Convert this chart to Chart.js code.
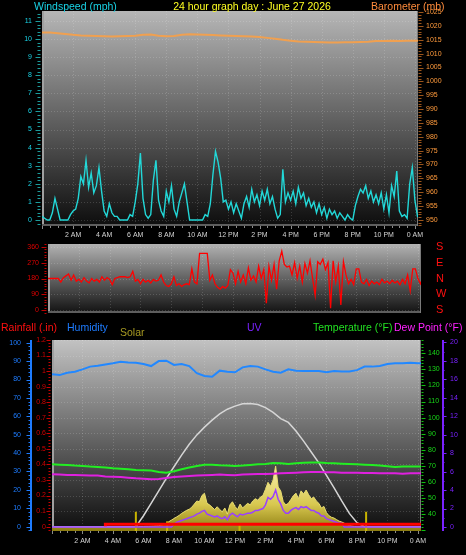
<!DOCTYPE html>
<html>
<head>
<meta charset="utf-8">
<script src="https://cdn.jsdelivr.net/npm/chart.js@4.4.1/dist/chart.umd.min.js"></script>
<style>
html, body { margin: 0; padding: 0; background: #000; }
#wrap { position: relative; width: 466px; height: 555px; overflow: hidden; }
canvas { position: absolute; left: 0; }
</style>
</head>
<body>
<div id="wrap">
  <canvas id="wind-chart" width="466" height="240" style="top:0px"></canvas>
  <canvas id="dir-chart" width="466" height="78" style="top:240px"></canvas>
  <canvas id="climate-chart" width="466" height="237" style="top:318px"></canvas>
</div>
<script>
// time axis (hours since midnight)
const xMax = 24.2;
const timeTicks = [2, 4, 6, 8, 10, 12, 14, 16, 18, 20, 22, 24];
const timeLabels = ['2 AM', '4 AM', '6 AM', '8 AM', '10 AM', '12 PM', '2 PM', '4 PM', '6 PM', '8 PM', '10 PM', '0 AM'];
const fastStep = 1 / 6;   // 10 minute samples
const slowStep = 0.5;     // 30 minute samples
const dayStart = 5.5;     // first daylight sample

// axis tick values
const windTicks = [0, 1, 2, 3, 4, 5, 6, 7, 8, 9, 10, 11];
const baroTicks = [950, 955, 960, 965, 970, 975, 980, 985, 990, 995, 1000, 1005, 1010, 1015, 1020, 1025];
const dirTicks = [0, 90, 180, 270, 360];
const dirLetters = ['S', 'W', 'N', 'E', 'S'];
const humTicks = [0, 10, 20, 30, 40, 50, 60, 70, 80, 90, 100];
const rainTicks = [0, 0.1, 0.2, 0.3, 0.4, 0.5, 0.6, 0.7, 0.8, 0.9, 1, 1.1, 1.2];
const tempTicks = [40, 50, 60, 70, 80, 90, 100, 110, 120, 130, 140];
const uvTicks = [0, 2, 4, 6, 8, 10, 12, 14, 16, 18, 20];

// windspeed (mph), every 10 min from midnight
const windSpeed = [
  0.2, 0.1, 0, 0, 0.4, 1.2, 0.6, 0, 0, 0,
  0, 0.3, 0.5, 0.6, 1.2, 2.4, 2.0, 3.3, 1.8, 2.6,
  1.5, 1.9, 2.9, 1.6, 0.5, 0.2, 0.9, 0.4, 0.2, 0.2,
  0, 0, 0, 0, 0.3, 0.2, 1.0, 2.0, 3.7, 1.2,
  0.3, 0.1, 0.3, 2.2, 3.3, 1.1, 0.5, 0.2, 1.6, 1.0,
  1.9, 0.6, 0.2, 1.0, 1.5, 2.0, 1.0, 0, 0, 0,
  0, 0, 0, 0.3, 0.2, 0.9, 2.5, 3.8, 3.2, 2.3,
  1.0, 1.1, 0.6, 1.0, 0.4, 0.9, 0.5, 0.1, 0.9, 1.3,
  0.7, 1.7, 1.0, 1.4, 0.8, 1.6, 1.1, 1.7, 0.9, 1.3,
  0.6, 0.1, 0.3, 2.8, 1.0, 1.5, 1.1, 1.6, 0.9, 1.8,
  1.2, 1.5, 0.8, 1.2, 0.7, 1.0, 0.4, 0.9, 0.3, 0.7,
  0.1, 0.6, 0.3, 0.5, 0.1, 0.4, 0.2, 0, 0.3, 0.1,
  0, 0.8, 1.3, 1.7, 1.5, 1.9, 1.2, 1.6, 1.0, 1.4,
  0.9, 1.5, 0.6, 1.4, 0.4, 1.9, 1.3, 2.7, 0.5, 0.2,
  0.3, 0.1, 2.0, 2.9, 1.1, 0.2, 0.3
];

// barometer (mb), every 30 min
const barometer = [
  1017.6, 1017.6, 1017.4, 1017.1, 1016.8, 1016.6, 1016.5, 1016.4, 1016.3, 1016.2,
  1016.3, 1016.4, 1016.5, 1016.8, 1016.9, 1016.5, 1016.3, 1016.4, 1016.8, 1017.0,
  1016.9, 1016.8, 1016.7, 1016.6, 1016.5, 1016.4, 1016.3, 1016.2, 1016.0, 1015.7,
  1015.4, 1015.0, 1014.7, 1014.4, 1014.3, 1014.2, 1014.1, 1014.0, 1014.0, 1014.1,
  1014.1, 1014.2, 1014.3, 1014.6, 1014.6, 1014.7, 1014.6, 1014.7, 1014.7, 1014.7
];

// wind direction (degrees), every 10 min
const windDir = [
  180, 180, 180, 180, 180, 160, 185, 195, 205, 170,
  200, 165, 175, 160, 185, 165, 155, 180, 165, 175,
  160, 190, 170, 185, 175, 145, 180, 185, 190, 190,
  190, 185, 190, 220, 165, 175, 150, 175, 160, 170,
  155, 175, 165, 170, 200, 160, 140, 135, 150, 190,
  140, 150, 135, 145, 150, 145, 235, 160, 150, 322,
  322, 322, 322, 170, 200, 150, 130, 120, 135, 125,
  140, 230, 210, 150, 220, 160, 200, 150, 240, 170,
  195, 160, 250, 180, 230, 40, 250, 170, 260, 120,
  280, 335, 260, 245, 250, 200, 270, 180, 250, 160,
  265, 210, 280, 180, 85, 275, 260, 290, 230, 270,
  12, 280, 160, 250, 30, 275, 200, 150, 175, 145,
  235, 235, 160, 150, 175, 140, 165, 150, 160, 145,
  175, 155, 165, 150, 170, 155, 165, 145, 175, 150,
  200, 110, 235, 235, 180, 150, 190
];

// humidity (%), temperature and dew point (°F), every 30 min
const humidity = [
  82.8, 82.4, 83.7, 84.2, 85.5, 87, 87.5, 88.2, 88.8, 89.7,
  89.3, 89.1, 88.4, 87.3, 90, 90.2, 87.9, 88.4, 87.3, 83.4,
  81.9, 81.5, 84.8, 84.2, 83.9, 86.6, 87.3, 87, 85.5, 84.2,
  83.7, 85.5, 84.8, 84.6, 84.6, 84.6, 84, 84.6, 84.4, 84.4,
  85.1, 87, 87, 87.3, 88.4, 88.8, 88.8, 89.1, 88.8, 88.8
];
const temperature = [
  70.9, 70.7, 70.5, 70.1, 69.9, 69.5, 69.3, 68.9, 68.4, 68.2,
  67.8, 67.4, 67.2, 67.0, 66.2, 65.7, 66.6, 67.8, 68.9, 69.9,
  70.7, 70.7, 70.3, 70.1, 69.9, 70.1, 70.5, 70.9, 71.1, 71.7,
  71.5, 71.1, 71.5, 71.9, 72.1, 72.1, 71.7, 71.5, 71.3, 71.1,
  70.9, 70.7, 70.5, 70.1, 69.7, 69.3, 69.5, 69.5, 69.5, 69.5
];
const dewPoint = [
  64.7, 64.5, 64.3, 64.3, 64.1, 63.9, 63.9, 63.4, 63.2, 63.0,
  62.6, 62.2, 62.0, 61.6, 61.8, 62.4, 63.0, 63.4, 63.6, 63.9,
  64.1, 64.3, 64.5, 64.3, 64.1, 64.5, 64.7, 64.9, 64.9, 65.1,
  65.3, 65.5, 65.7, 66.0, 66.2, 66.2, 66.0, 66.0, 65.7, 65.7,
  65.7, 65.5, 65.5, 65.3, 65.3, 65.3, 65.1, 65.3, 65.3, 65.3
];

// solar radiation (W/m²) and UV index, every 10 min from 5:30 to 20:00
const solar = [
  0, 0, 1,
  1, 2, 2, 3, 4, 5,
  6, 10, 14, 22, 32, 42,
  52, 62, 72, 85, 95, 105,
  112, 125, 145, 165, 160, 200,
  215, 150, 140, 125, 110, 128,
  110, 95, 120, 80, 140, 160,
  130, 110, 145, 120, 135, 150,
  140, 165, 180, 170, 190, 200,
  240, 285, 260, 300, 390, 255,
  230, 160, 140, 150, 175, 200,
  215, 180, 230, 210, 235, 205,
  180, 190, 165, 150, 120, 130,
  90, 70, 60, 55, 45, 35,
  30, 22, 15, 8, 4, 1,
  0
];
const uvIndex = [
  0, 0, 0,
  0, 0, 0, 0, 0, 0,
  0, 0, 0, 0, 0, 0,
  0.3, 0.5, 0.6, 0.7, 0.8, 0.9,
  1.0, 1.1, 1.2, 1.4, 1.5, 1.7,
  1.8, 1.4, 1.3, 1.2, 1.1, 1.2,
  1.0, 0.9, 1.1, 0.8, 1.3, 1.5,
  1.3, 1.1, 1.4, 1.3, 1.4, 1.5,
  1.5, 1.6, 1.8, 1.8, 1.9, 2.0,
  2.4, 3.2, 3.0, 3.3, 4.0, 3.0,
  2.5, 1.8, 1.5, 1.5, 1.8, 2.0,
  2.1, 1.9, 2.2, 2.1, 2.2, 2.0,
  1.8, 1.8, 1.6, 1.5, 1.2, 1.2,
  0.9, 0.8, 0.7, 0.6, 0.5, 0.4,
  0.4, 0, 0, 0, 0, 0,
  0
];
// theoretical max solar (W/m²), every 30 min from 5:30 to 20:30
const solarMax = [
  0, 70, 150, 230, 310, 385, 460, 530, 590, 640,
  685, 725, 755, 775, 790, 792, 785, 765, 735, 695,
  670, 615, 550, 480, 410, 330, 250, 165, 85, 25,
  0
];

// daily rainfall (in) steps and sun markers
const rainTimes = [3.5, 6.9, 24.5];
const rainTotal = [0.003, 0.015, 0.015];
const sunTimes = [5.5, 7.55, 12.3, 20.6];
const sunMarks = [0.095, 0.035, 0.012, 0.095];

Chart.defaults.font.family = '"Liberation Sans", Arial, sans-serif';
Chart.defaults.font.size = 7;

// helpers
const series = (values, start, step) => values.map((v, i) => ({ x: start + i * step, y: v }));
const withNight = (values, start, step) =>
  [{ x: 0, y: 0 }].concat(series(values, start, step), [{ x: xMax + 0.5, y: 0 }]);

function xAxis(height, pad, show) {
  return {
    type: 'linear', min: 0, max: xMax,
    grid: { display: false, drawTicks: false },
    border: { display: false },
    afterBuildTicks: s => { s.ticks = timeTicks.map(v => ({ value: v })); },
    afterFit: s => { s.height = height; s.paddingLeft = 0; s.paddingRight = 0; },
    ticks: {
      display: show, color: '#d4d4d4', padding: pad, maxRotation: 0, autoSkip: false,
      callback: v => timeLabels[timeTicks.indexOf(v)]
    }
  };
}

function yAxis(position, min, max, values, color, width, pad, extra) {
  return Object.assign({
    type: 'linear', position, min, max,
    grid: { display: false, drawTicks: false },
    border: { display: false },
    afterBuildTicks: s => { s.ticks = values.map(v => ({ value: v })); },
    afterFit: s => { s.width = width; s.paddingTop = 0; s.paddingBottom = 0; },
    ticks: { color, padding: pad, autoSkip: false, callback: v => String(v) }
  }, extra || {});
}

// background, grid, tick marks and captions
const decor = {
  id: 'decor',
  beforeDatasetsDraw(chart, args, opts) {
    if (!opts.bg) return;
    const { ctx, chartArea: a, scales } = chart;
    ctx.save();
    const g = ctx.createLinearGradient(0, a.top, 0, a.bottom);
    g.addColorStop(0, opts.bg[0]);
    g.addColorStop(1, opts.bg[1]);
    ctx.fillStyle = g;
    ctx.fillRect(a.left, a.top, a.right - a.left, a.bottom - a.top);

    ctx.strokeStyle = 'rgba(255,255,255,0.16)';
    ctx.lineWidth = 1;
    ctx.setLineDash([1, 2]);
    ctx.beginPath();
    timeTicks.forEach(h => {
      const px = Math.round(scales.x.getPixelForValue(h)) + 0.5;
      ctx.moveTo(px, a.top); ctx.lineTo(px, a.bottom);
    });
    opts.gridValues.forEach(v => {
      const py = Math.round(scales[opts.gridAxis].getPixelForValue(v)) + 0.5;
      ctx.moveTo(a.left, py); ctx.lineTo(a.right, py);
    });
    ctx.stroke();
    ctx.setLineDash([]);

    // frame
    ctx.fillStyle = '#a0a0a0';
    ctx.fillRect(a.left, a.top, 2, a.bottom - a.top);
    ctx.fillStyle = '#5e5e5e';
    ctx.fillRect(a.left, a.bottom - 2, a.right - a.left, 2);
    ctx.fillStyle = '#7a7a7a';
    ctx.fillRect(a.right - 1, a.top, 1, a.bottom - a.top);
    ctx.restore();
  },
  afterDraw(chart, args, opts) {
    const { ctx, chartArea: a, scales } = chart;
    ctx.save();
    (opts.marks || []).forEach(m => {
      const s = scales[m.axis];
      const horiz = m.side === 'bottom';
      const dir = m.side === 'left' ? -1 : 1;
      const base = horiz ? a.bottom + m.offset
        : (m.side === 'left' ? a.left - m.offset : a.right + m.offset);
      ctx.strokeStyle = m.color;
      ctx.fillStyle = m.color;
      if (m.line) {
        ctx.fillRect(base - (dir < 0 ? m.line - 1 : 0), a.top, m.line, a.bottom - a.top);
      }
      ctx.lineWidth = 1;
      ctx.beginPath();
      const n0 = Math.ceil(s.min / m.minor - 1e-6);
      const n1 = Math.floor(s.max / m.minor + 1e-6);
      for (let n = n0; n <= n1; n++) {
        const v = n * m.minor;
        const q = v / m.major;
        const len = Math.abs(q - Math.round(q)) < 1e-6 ? m.majorLen : m.minorLen;
        const p = Math.round(s.getPixelForValue(v)) + 0.5;
        if (horiz) {
          ctx.moveTo(p, base); ctx.lineTo(p, base + len);
        } else {
          const x0 = base + 0.5 * dir;
          ctx.moveTo(x0, p); ctx.lineTo(x0 + dir * len, p);
        }
      }
      ctx.stroke();
    });
    (opts.texts || []).forEach(t => {
      ctx.font = '10.5px "Liberation Sans", Arial, sans-serif';
      ctx.fillStyle = t.color;
      ctx.textAlign = t.align || 'left';
      ctx.textBaseline = 'alphabetic';
      ctx.fillText(t.text, t.x, t.y);
    });
    ctx.restore();
  }
};
Chart.register(decor);

const baseOptions = {
  responsive: false,
  animation: false,
  events: [],
  elements: { point: { radius: 0 }, line: { tension: 0 } }
};

// windspeed and barometer
function createWindChart() {
  const ctx = document.getElementById('wind-chart');
  new Chart(ctx, {
    type: 'line',
    data: {
      datasets: [{
        label: 'Barometer (mb)',
        yAxisID: 'yBaro',
        data: series(barometer, 0, slowStep),
        borderColor: '#f0a050',
        borderWidth: 2,
        order: 2
      }, {
        label: 'Windspeed (mph)',
        yAxisID: 'yWind',
        data: series(windSpeed, 0, fastStep),
        borderColor: '#22d8d8',
        borderWidth: 1.4,
        order: 1
      }]
    },
    options: {
      ...baseOptions,
      layout: { padding: { top: 11, left: 0, right: 0, bottom: 0 }, autoPadding: false },
      plugins: {
        legend: { display: false },
        tooltip: { enabled: false },
        decor: {
          bg: ['#b6b6b6', '#0d0d0d'],
          gridAxis: 'yWind',
          gridValues: windTicks,
          marks: [
            { axis: 'yWind', side: 'left', offset: 1, color: '#1c9c9c', major: 1, minor: 0.2, majorLen: 5, minorLen: 3 },
            { axis: 'yBaro', side: 'right', offset: 0, color: '#9c561c', major: 5, minor: 1, majorLen: 5, minorLen: 3 },
            { axis: 'x', side: 'bottom', offset: 0, color: '#8a8a8a', major: 2, minor: 0.5, majorLen: 3, minorLen: 2 }
          ],
          texts: [
            { text: 'Windspeed (mph)', x: 34, y: 9.5, color: '#19d3e6' },
            { text: '24 hour graph day : June 27 2026', x: 252, y: 9.5, color: '#ffff22', align: 'center' },
            { text: 'Barometer (mb)', x: 371, y: 9.5, color: '#ff8c3c' }
          ]
        }
      },
      scales: {
        x: xAxis(14, 5, true),
        yWind: yAxis('left', -0.33, 11.55, windTicks, '#19d3e6', 42, 10),
        yBaro: yAxis('right', 947.8, 1025.4, baroTicks, '#ff9a3c', 48, 8)
      }
    }
  });
}

// wind direction
function createDirectionChart() {
  const ctx = document.getElementById('dir-chart');
  new Chart(ctx, {
    type: 'line',
    data: {
      datasets: [{
        label: 'Wind direction',
        yAxisID: 'yDir',
        data: series(windDir, 0, fastStep),
        borderColor: '#ff0000',
        borderWidth: 1.3
      }]
    },
    options: {
      ...baseOptions,
      layout: { padding: { top: 4, left: 0, right: 0, bottom: 0 }, autoPadding: false },
      plugins: {
        legend: { display: false },
        tooltip: { enabled: false },
        decor: {
          bg: ['#b2b2b2', '#121212'],
          gridAxis: 'yDir',
          gridValues: dirTicks,
          marks: [
            { axis: 'yDir', side: 'left', offset: 1, color: '#c00000', major: 90, minor: 15, majorLen: 5, minorLen: 2 }
          ]
        }
      },
      scales: {
        x: xAxis(5, 0, false),
        yDir: yAxis('left', -15.3, 375.3, dirTicks, '#e00000', 48, 9),
        yCompass: yAxis('right', -15.3, 375.3, dirTicks, '#ff1010', 45, 15, {
          ticks: {
            color: '#ff1010', padding: 15, autoSkip: false, font: { size: 11 },
            callback: v => dirLetters[dirTicks.indexOf(v)]
          }
        })
      }
    }
  });
}

// rainfall, humidity, solar, UV, temperature and dew point
function createClimateChart() {
  const ctx = document.getElementById('climate-chart');
  const sunData = [];
  sunTimes.forEach((t, i) => {
    sunData.push({ x: t, y: -0.03 }, { x: t, y: sunMarks[i] }, { x: t, y: null });
  });
  new Chart(ctx, {
    type: 'line',
    data: {
      datasets: [{
        label: 'Solar',
        yAxisID: 'ySolar',
        data: withNight(solar, dayStart, fastStep),
        borderColor: '#e8dc70',
        borderWidth: 1,
        fill: 'start',
        backgroundColor: c => {
          const a = c.chart.chartArea;
          if (!a) return '#d8c850';
          const y0 = c.chart.scales.ySolar.getPixelForValue(400);
          const g = c.chart.ctx.createLinearGradient(0, y0, 0, a.bottom);
          g.addColorStop(0, '#fbf4b4');
          g.addColorStop(0.6, '#d8c850');
          g.addColorStop(1, '#8c7c10');
          return g;
        },
        order: 10
      }, {
        label: 'Max solar',
        yAxisID: 'ySolar',
        data: withNight(solarMax, dayStart, slowStep),
        borderColor: '#d6d6d6',
        borderWidth: 1.5,
        order: 9
      }, {
        label: 'Sun',
        yAxisID: 'yRain',
        data: sunData,
        borderColor: '#c8b400',
        borderWidth: 2,
        spanGaps: false,
        order: 8
      }, {
        label: 'UV',
        yAxisID: 'yUV',
        data: withNight(uvIndex, dayStart, fastStep),
        borderColor: '#9a40ff',
        borderWidth: 1.5,
        order: 5
      }, {
        label: 'Dew Point (°F)',
        yAxisID: 'yTemp',
        data: series(dewPoint, 0, slowStep),
        borderColor: '#e020e0',
        borderWidth: 2,
        order: 4
      }, {
        label: 'Temperature (°F)',
        yAxisID: 'yTemp',
        data: series(temperature, 0, slowStep),
        borderColor: '#22ee22',
        borderWidth: 2,
        order: 3
      }, {
        label: 'Humidity',
        yAxisID: 'yHum',
        data: series(humidity, 0, slowStep),
        borderColor: '#2288ff',
        borderWidth: 2,
        order: 2
      }, {
        label: 'Rainfall (.in)',
        yAxisID: 'yRain',
        data: rainTimes.map((t, i) => ({ x: t, y: rainTotal[i] })),
        borderColor: '#ff0000',
        borderWidth: 3,
        stepped: 'after',
        order: 1
      }]
    },
    options: {
      ...baseOptions,
      layout: { padding: { top: 22, left: 0, right: 0, bottom: 0 }, autoPadding: false },
      plugins: {
        legend: { display: false },
        tooltip: { enabled: false },
        decor: {
          bg: ['#c2c2c2', '#0d0d0d'],
          gridAxis: 'yRain',
          gridValues: rainTicks,
          marks: [
            { axis: 'yHum', side: 'left', offset: 21, line: 2, color: '#1e7cff', major: 10, minor: 2, majorLen: 4, minorLen: 2 },
            { axis: 'yRain', side: 'left', offset: 1, color: '#c80000', major: 0.1, minor: 0.02, majorLen: 4, minorLen: 2 },
            { axis: 'yTemp', side: 'right', offset: 0, color: '#10c010', major: 10, minor: 2, majorLen: 4, minorLen: 2 },
            { axis: 'yUV', side: 'right', offset: 21, line: 2, color: '#7a22ff', major: 2, minor: 1, majorLen: 4, minorLen: 2 },
            { axis: 'x', side: 'bottom', offset: 0, color: '#8a8a8a', major: 2, minor: 0.5, majorLen: 3, minorLen: 2 }
          ],
          texts: [
            { text: 'Rainfall (.in)', x: 1, y: 12.7, color: '#ff1010' },
            { text: 'Humidity', x: 67, y: 12.7, color: '#1e7cff' },
            { text: 'Solar', x: 120, y: 18, color: '#a89a22' },
            { text: 'UV', x: 247, y: 12.7, color: '#7a22ff' },
            { text: 'Temperature (°F)', x: 313, y: 12.7, color: '#22e022' },
            { text: 'Dew Point (°F)', x: 394, y: 12.7, color: '#ff22ff' }
          ]
        }
      },
      scales: {
        x: xAxis(24, 6, true),
        yRain: yAxis('left', -0.028, 1.2, rainTicks, '#d40000', 18, 6, { weight: 0 }),
        yHum: yAxis('left', -2.34, 101.47, humTicks, '#1e7cff', 34, 13, { weight: 1 }),
        yTemp: yAxis('right', 29.4, 148.3, tempTicks, '#18d818', 20, 7, { weight: 0 }),
        yUV: yAxis('right', -0.43, 20.25, uvTicks, '#7a22ff', 25, 9, { weight: 1 }),
        ySolar: { type: 'linear', display: false, min: -28, max: 1200 }
      }
    }
  });
}

createWindChart();
createDirectionChart();
createClimateChart();
</script>
</body>
</html>
